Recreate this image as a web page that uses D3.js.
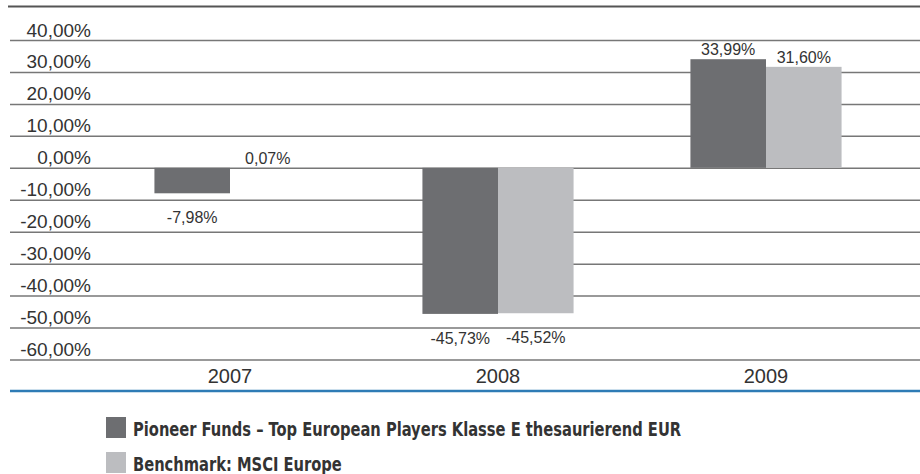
<!DOCTYPE html>
<html>
<head>
  <meta charset='utf-8'>
  <title>Wertentwicklung</title>
  <script src="https://cdnjs.cloudflare.com/ajax/libs/d3/7.8.5/d3.min.js"></script>
  <style>
    html, body {
      margin: 0;
      padding: 0;
      background: #fff;
    }
    svg {
      display: block;
      font-family: 'Liberation Sans', Arial, sans-serif;
    }
    .legend text {
      font-family: 'DejaVu Sans Condensed', 'DejaVu Sans', sans-serif;
      font-stretch: condensed;
      font-weight: bold;
    }
  </style>
</head>
<body>
  <svg id="chart"></svg>
  <script>
    // values
    const years = ["2007", "2008", "2009"];
    const fund = [-7.98, -45.73, 33.99];
    const benchmark = [0.07, -45.52, 31.60];
    const seriesNames = [
      "Pioneer Funds \u2013 Top European Players Klasse E thesaurierend EUR",
      "Benchmark: MSCI Europe"
    ];
    const yTicks = [40, 30, 20, 10, 0, -10, -20, -30, -40, -50, -60];

    const width = 920;
    const height = 474;
    const colors = ["#6d6e71", "#bcbdc0"];

    const locale = d3.formatLocale({
      decimal: ",",
      thousands: ".",
      grouping: [3],
      currency: ["", "\u20ac"],
      minus: "-"
    });
    const fmt = v => locale.format(".2f")(v) + "%";

    const svg = d3.select("#chart")
      .attr("width", width)
      .attr("height", height)
      .attr("viewBox", `0 0 ${width} ${height}`);

    const x = d3.scaleBand()
      .domain(years)
      .range([96, 900])
      .paddingInner(0.436)
      .paddingOuter(0.218);

    const xSub = d3.scaleBand()
      .domain([0, 1])
      .range([0, x.bandwidth()]);

    const y = d3.scaleLinear()
      .domain([-60, 40])
      .range([359.5, 40]);

    // top rule
    svg.append("line")
      .attr("x1", 8).attr("x2", width)
      .attr("y1", 6.5).attr("y2", 6.5)
      .attr("stroke", "#555").attr("stroke-width", 2);

    // gridlines + tick labels
    const yAxis = svg.append("g")
      .attr("transform", "translate(10,0)")
      .call(d3.axisRight(y).tickValues(yTicks).tickSize(width - 10).tickFormat(fmt));
    yAxis.select(".domain").remove();
    yAxis.selectAll(".tick line")
      .attr("stroke", "#777")
      .attr("stroke-width", 1.5);
    yAxis.selectAll(".tick text")
      .attr("x", 81)
      .attr("dy", -4)
      .attr("text-anchor", "end")
      .attr("fill", "#333")
      .style("font-size", "19px")
      .style("font-family", "'Liberation Sans', Arial, sans-serif");

    // bars
    const rows = years.map((yr, i) => ({ year: yr, values: [fund[i], benchmark[i]] }));

    const groups = svg.append("g")
      .selectAll("g")
      .data(rows)
      .join("g")
      .attr("transform", d => `translate(${x(d.year)},0)`);

    groups.selectAll("rect")
      .data(d => d.values.map((v, k) => ({ v, k })))
      .join("rect")
      .attr("x", d => xSub(d.k))
      .attr("width", xSub.bandwidth())
      .attr("y", d => y(Math.max(0, d.v)))
      .attr("height", d => Math.abs(y(d.v) - y(0)))
      .attr("fill", d => colors[d.k]);

    groups.selectAll("text")
      .data(d => d.values.map((v, k) => ({ v, k })))
      .join("text")
      .attr("x", d => xSub(d.k) + xSub.bandwidth() / 2)
      .attr("y", d => d.v >= 0 ? y(d.v) - 4 : y(d.v) + 30)
      .attr("text-anchor", "middle")
      .attr("fill", "#333")
      .style("font-size", "16px")
      .text(d => fmt(d.v));

    // category axis
    const xAxis = svg.append("g")
      .attr("transform", "translate(0,363)")
      .call(d3.axisBottom(x).tickSize(0).tickPadding(6));
    xAxis.select(".domain").remove();
    xAxis.selectAll(".tick text")
      .attr("fill", "#333")
      .style("font-size", "20px")
      .style("font-family", "'Liberation Sans', Arial, sans-serif");

    svg.append("line")
      .attr("x1", 10).attr("x2", width)
      .attr("y1", 391).attr("y2", 391)
      .attr("stroke", "#2e7bb5").attr("stroke-width", 2.5);

    // legend
    const legend = svg.append("g")
      .attr("class", "legend")
      .selectAll("g")
      .data(seriesNames)
      .join("g")
      .attr("transform", (d, i) => `translate(106,${417 + i * 35})`);

    legend.append("rect")
      .attr("width", 20)
      .attr("height", 21)
      .attr("fill", (d, i) => colors[i]);

    // the reference face is narrower than anything installed, so squeeze it a bit
    legend.append("text")
      .attr("transform", "translate(27,19) scale(0.86,1)")
      .attr("fill", "#333")
      .style("font-size", "19px")
      .text(d => d);
  </script>
</body>
</html>
